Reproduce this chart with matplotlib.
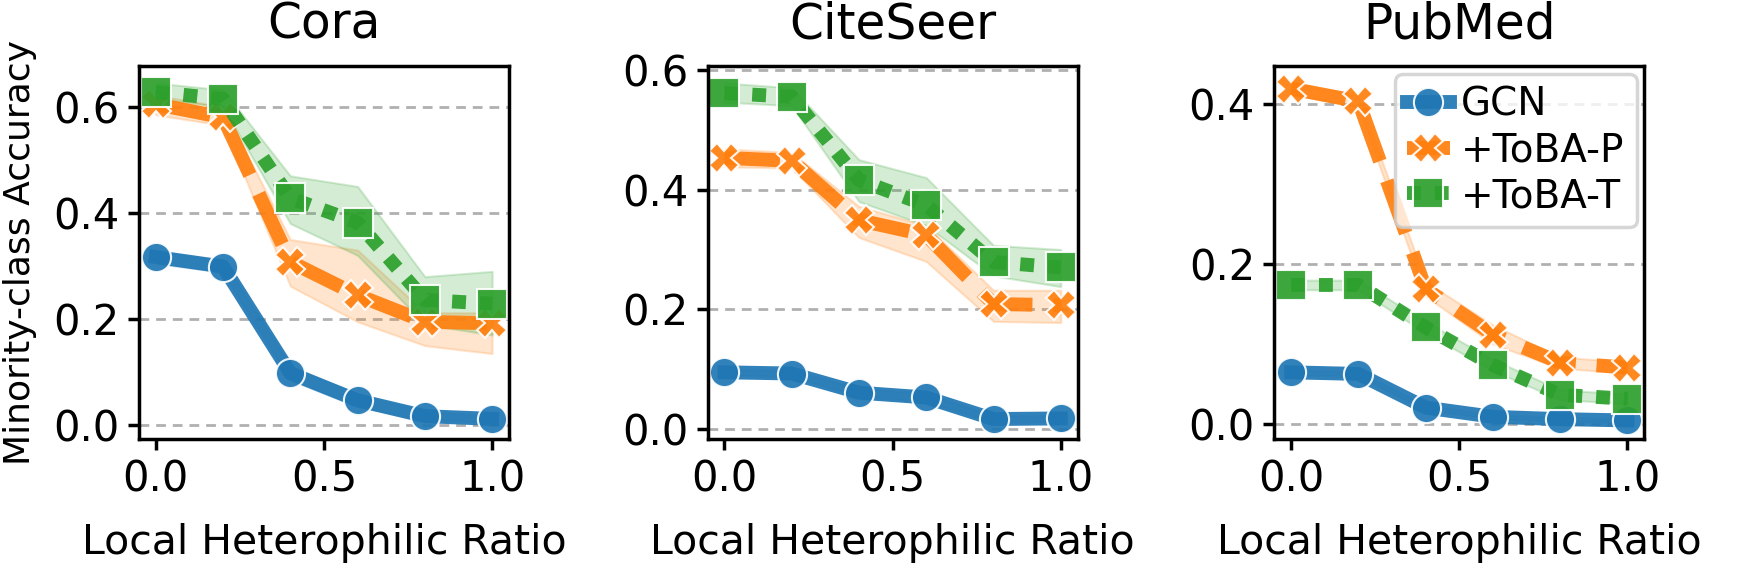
import matplotlib
matplotlib.use("Agg")
import matplotlib.pyplot as plt
import numpy as np

x = [0.0, 0.2, 0.4, 0.6, 0.8, 1.0]
datasets = ["Cora", "CiteSeer", "PubMed"]
methods = ["GCN", "+ToBA-P", "+ToBA-T"]

# mean values
cora_gcn = [0.317, 0.299, 0.098, 0.047, 0.017, 0.012]
cora_p = [0.605, 0.580, 0.308, 0.245, 0.195, 0.192]
cora_t = [0.628, 0.615, 0.428, 0.382, 0.236, 0.229]
cite_gcn = [0.095, 0.093, 0.061, 0.053, 0.017, 0.018]
cite_p = [0.453, 0.448, 0.349, 0.324, 0.209, 0.207]
cite_t = [0.561, 0.555, 0.416, 0.374, 0.279, 0.270]
pub_gcn = [0.065, 0.063, 0.021, 0.0095, 0.0066, 0.005]
pub_p = [0.419, 0.403, 0.169, 0.112, 0.077, 0.071]
pub_t = [0.174, 0.174, 0.121, 0.074, 0.037, 0.032]

# error band lower / upper
cora_gcn_lo = [0.305, 0.288, 0.085, 0.035, 0.010, 0.006]
cora_gcn_hi = [0.328, 0.310, 0.112, 0.058, 0.025, 0.018]
cora_p_lo = [0.585, 0.565, 0.262, 0.195, 0.150, 0.135]
cora_p_hi = [0.622, 0.600, 0.350, 0.330, 0.212, 0.212]
cora_t_lo = [0.615, 0.600, 0.380, 0.320, 0.190, 0.170]
cora_t_hi = [0.645, 0.632, 0.470, 0.450, 0.280, 0.290]
cite_gcn_lo = [0.090, 0.088, 0.055, 0.046, 0.012, 0.013]
cite_gcn_hi = [0.100, 0.098, 0.068, 0.060, 0.022, 0.023]
cite_p_lo = [0.438, 0.436, 0.320, 0.280, 0.180, 0.178]
cite_p_hi = [0.468, 0.462, 0.372, 0.340, 0.232, 0.232]
cite_t_lo = [0.546, 0.540, 0.380, 0.340, 0.256, 0.238]
cite_t_hi = [0.578, 0.570, 0.450, 0.420, 0.307, 0.300]
pub_gcn_lo = [0.062, 0.060, 0.018, 0.007, 0.004, 0.003]
pub_gcn_hi = [0.068, 0.066, 0.024, 0.012, 0.009, 0.007]
pub_p_lo = [0.412, 0.396, 0.160, 0.100, 0.070, 0.064]
pub_p_hi = [0.426, 0.410, 0.178, 0.124, 0.084, 0.078]
pub_t_lo = [0.168, 0.168, 0.114, 0.067, 0.031, 0.026]
pub_t_hi = [0.180, 0.180, 0.128, 0.081, 0.043, 0.038]

means = [[cora_gcn, cora_p, cora_t], [cite_gcn, cite_p, cite_t], [pub_gcn, pub_p, pub_t]]
lows = [[cora_gcn_lo, cora_p_lo, cora_t_lo], [cite_gcn_lo, cite_p_lo, cite_t_lo],
        [pub_gcn_lo, pub_p_lo, pub_t_lo]]
highs = [[cora_gcn_hi, cora_p_hi, cora_t_hi], [cite_gcn_hi, cite_p_hi, cite_t_hi],
         [pub_gcn_hi, pub_p_hi, pub_t_hi]]

yticks_list = [[0.0, 0.2, 0.4, 0.6], [0.0, 0.2, 0.4, 0.6], [0.0, 0.2, 0.4]]
xticks = [0.0, 0.5, 1.0]

colors = ["#1f77b4", "#ff7f0e", "#2ca02c"]
markers = ["o", "X", "s"]
dashes = [None, (4, 1.5), (1, 1)]

plt.rcParams["font.family"] = ["DejaVu Sans"]

fig = plt.figure(figsize=(17.4, 5.69), dpi=100)
lefts = [0.0799, 0.4067, 0.7324]
width = 0.2126
bottom = 0.2285
height = 0.884 - 0.2285

for i, name in enumerate(datasets):
    ax = fig.add_axes([lefts[i], bottom, width, height])
    ax.set_axisbelow(True)
    ax.yaxis.grid(True, linestyle=(0, (3.5, 2.5)), color="#b0b0b0", linewidth=2.0)
    for j, m in enumerate(methods):
        ax.fill_between(x, lows[i][j], highs[i][j], color=colors[j], alpha=0.2, linewidth=1.5)
        line, = ax.plot(x, means[i][j], color=colors[j], lw=10, marker=markers[j],
                        markersize=21, markeredgecolor="white", markeredgewidth=1.5,
                        alpha=0.92, label=m)
        if dashes[j] is not None:
            line.set_dashes(dashes[j])
    ax.set_xticks(xticks)
    ax.set_yticks(yticks_list[i])
    ax.set_xticklabels(["%.1f" % v for v in xticks])
    ax.set_yticklabels(["%.1f" % v for v in yticks_list[i]])
    ax.tick_params(labelsize=30, width=2.5, length=8, pad=6)
    for s in ax.spines.values():
        s.set_linewidth(2.5)
    ax.set_title(name, fontsize=35, pad=20)
    ax.set_xlabel("Local Heterophilic Ratio", fontsize=29.5, labelpad=16)
    if i == 0:
        ax.set_ylabel("Minority-class Accuracy", fontsize=26, labelpad=12)
    if i == 2:
        leg = ax.legend(loc="upper right", fontsize=28, handlelength=1.1,
                        borderpad=0.3, labelspacing=0.2, handletextpad=0.3,
                        borderaxespad=0.2, fancybox=True, framealpha=0.8)
        leg.get_frame().set_linewidth(2.5)
        leg.get_frame().set_edgecolor("#cccccc")

fig.savefig("out.png", dpi=100)
